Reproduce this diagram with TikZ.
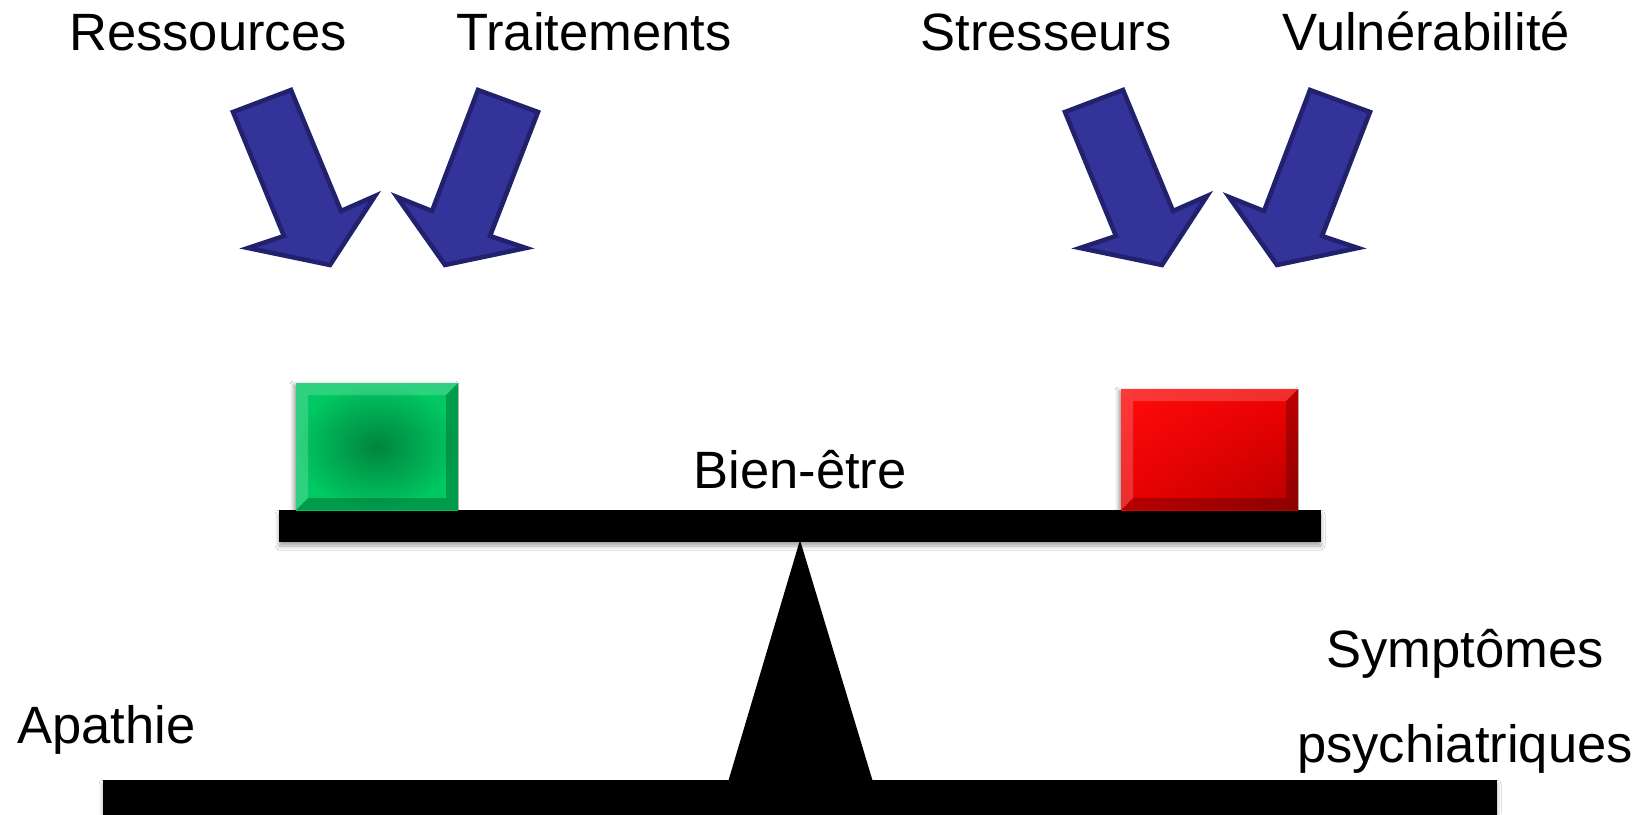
\documentclass[tikz,border=0pt]{standalone}
\usepackage{fontspec}
\setmainfont{Liberation Sans}
\usetikzlibrary{shadows.blur,shadings}
\definecolor{arrowfill}{RGB}{51,51,153}
\definecolor{arrowedge}{RGB}{33,33,110}
\definecolor{gouter}{RGB}{0,200,98}
\definecolor{ginner}{RGB}{0,132,62}
\definecolor{rtl}{RGB}{255,12,12}
\definecolor{rtr}{RGB}{240,0,0}
\definecolor{rbl}{RGB}{232,0,0}
\definecolor{rbr}{RGB}{182,0,0}
\tikzset{
  lbl/.style={font=\fontsize{39.4}{47}\selectfont, inner sep=0pt, anchor=base},
  blockarrow/.style={fill=arrowfill, draw=arrowedge, line width=3.4pt, line join=miter},
  beam/.style={fill=black, blur shadow={shadow xshift=0pt, shadow yshift=-3pt, shadow blur radius=3pt, shadow opacity=35}},
  boxshadow/.style={blur shadow={shadow xshift=-2pt, shadow yshift=-1pt, shadow blur radius=2.5pt, shadow opacity=35}},
  bevlight/.style={fill=white, fill opacity=0.18, draw=none},
  bevdark/.style={fill=black, fill opacity=0.22, draw=none}
}
\begin{document}
\begin{tikzpicture}[x=0.75pt,y=-0.75pt]
\useasboundingbox (0,0) rectangle (1652,814);
\fill[white] (0,0) rectangle (1652,814);

% labels
\node[lbl] (res) at (208,50) {Ressources};
\node[lbl] (trt) at (594,50) {Traitements};
\node[lbl] (str) at (1046,50) {Stresseurs};
\node[lbl] (vul) at (1426.5,50) {Vulnérabilité};
\node[lbl] (bien) at (800,488) {Bien-être};
\node[lbl, anchor=base west] (apa) at (17,743) {Apathie};
\node[lbl] (sym1) at (1465,667) {Symptômes};
\node[lbl] (sym2) at (1465,762) {psychiatriques};

% block arrows
\foreach \dx in {0,832}{
  \begin{scope}[xshift=\dx*0.75pt]
    \draw[blockarrow] (233,112) -- (291,90) -- (341,211) -- (375,196) -- (330,265) -- (248,248) -- (284,236) -- cycle;
    \draw[blockarrow] (478,90) -- (538,112) -- (490,236) -- (526,248) -- (445,265) -- (397,197) -- (432,211) -- cycle;
  \end{scope}
}

% fulcrum
\fill[black] (800,540) -- (872.7,781) -- (728.3,781) -- cycle;
% beams
\path[beam] (279,510) rectangle (1321,542);
\path[beam] (103,780) rectangle (1497,820);

% green box
\path[boxshadow, fill=gouter] (296,383) rectangle (458,510);
\shade[inner color=ginner, outer color=gouter] (296,383) rectangle (458,510);
\path[bevlight] (296,383) -- (458,383) -- (446,395) -- (308,395) -- cycle;
\path[bevlight] (296,383) -- (308,395) -- (308,498) -- (296,510) -- cycle;
\path[bevdark] (458,383) -- (458,510) -- (446,498) -- (446,395) -- cycle;
\path[bevdark] (296,510) -- (458,510) -- (446,498) -- (308,498) -- cycle;

% red box
\path[boxshadow, fill=rtl] (1121,389) rectangle (1298,510);
\shade[upper left=rtl, upper right=rtr, lower left=rbl, lower right=rbr] (1121,389) rectangle (1298,510);
\path[bevlight] (1121,389) -- (1298,389) -- (1286,401) -- (1133,401) -- cycle;
\path[bevlight] (1121,389) -- (1133,401) -- (1133,498) -- (1121,510) -- cycle;
\path[bevdark] (1298,389) -- (1298,510) -- (1286,498) -- (1286,401) -- cycle;
\path[bevdark] (1121,510) -- (1298,510) -- (1286,498) -- (1133,498) -- cycle;
\end{tikzpicture}
\end{document}
